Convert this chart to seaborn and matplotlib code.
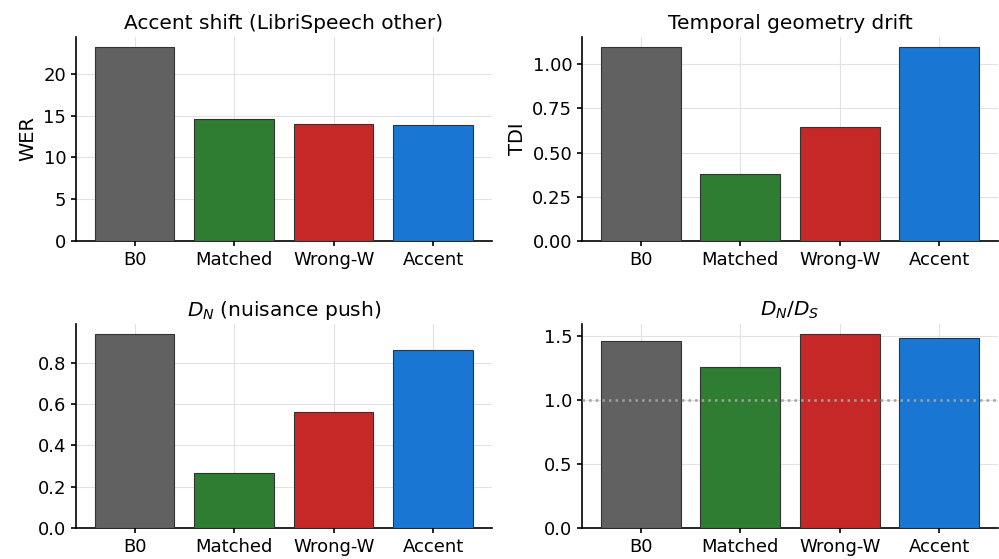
import matplotlib
matplotlib.use("Agg")
import matplotlib.pyplot as plt
from matplotlib.ticker import MultipleLocator
import seaborn as sns
import pandas as pd

categories = ["B0", "Matched", "Wrong-W", "Accent"]
colors = ["#616161", "#2e7d32", "#c62828", "#1976d2"]
wer = [23.3, 14.66, 14.06, 13.93]
tdi = [1.095, 0.38, 0.643, 1.10]
dn = [0.938, 0.269, 0.56, 0.86]
dn_ds = [1.461, 1.254, 1.513, 1.479]

titles = ["Accent shift (LibriSpeech other)", "Temporal geometry drift",
          r"$D_N$ (nuisance push)", r"$D_N/D_S$"]
ylabels = ["WER", "TDI", "", ""]
series = [wer, tdi, dn, dn_ds]

sns.set_style("ticks", rc={"axes.edgecolor": "black", "xtick.color": "black",
                           "ytick.color": "black", "text.color": "black",
                           "axes.labelcolor": "black"})
plt.rcParams['font.family'] = ['DejaVu Sans']
plt.rcParams['axes.linewidth'] = 1.2

fig, axes = plt.subplots(2, 2, figsize=(9.99, 5.59), dpi=100)
fig.subplots_adjust(left=0.076, right=0.999, top=0.934, bottom=0.055,
                    wspace=0.217, hspace=0.41)

for ax, vals, title, yl in zip(axes.flat, series, titles, ylabels):
    df = pd.DataFrame({"cat": categories, "val": vals})
    sns.barplot(data=df, x="cat", y="val", hue="cat", palette=colors,
                order=categories, hue_order=categories, legend=False,
                saturation=1, edgecolor="#333333", linewidth=0.8, width=0.8,
                ax=ax, zorder=3)
    ax.set_xlim(-0.59, 3.59)
    ax.set_title(title, fontsize=14.5)
    ax.set_ylabel(yl, fontsize=14)
    ax.set_xlabel("")
    ax.grid(True, color="#e2e2e2", linewidth=0.8, zorder=0)
    ax.set_axisbelow(True)
    ax.tick_params(labelsize=13, length=3.5, width=1.2)
    sns.despine(ax=ax)

axes[0, 1].yaxis.set_major_locator(MultipleLocator(0.25))
axes[1, 1].yaxis.set_major_locator(MultipleLocator(0.5))
axes[1, 1].axhline(1.0, color="#a0a0a0", linestyle=":", linewidth=1.8, zorder=4)

fig.savefig("out.png", dpi=100)
